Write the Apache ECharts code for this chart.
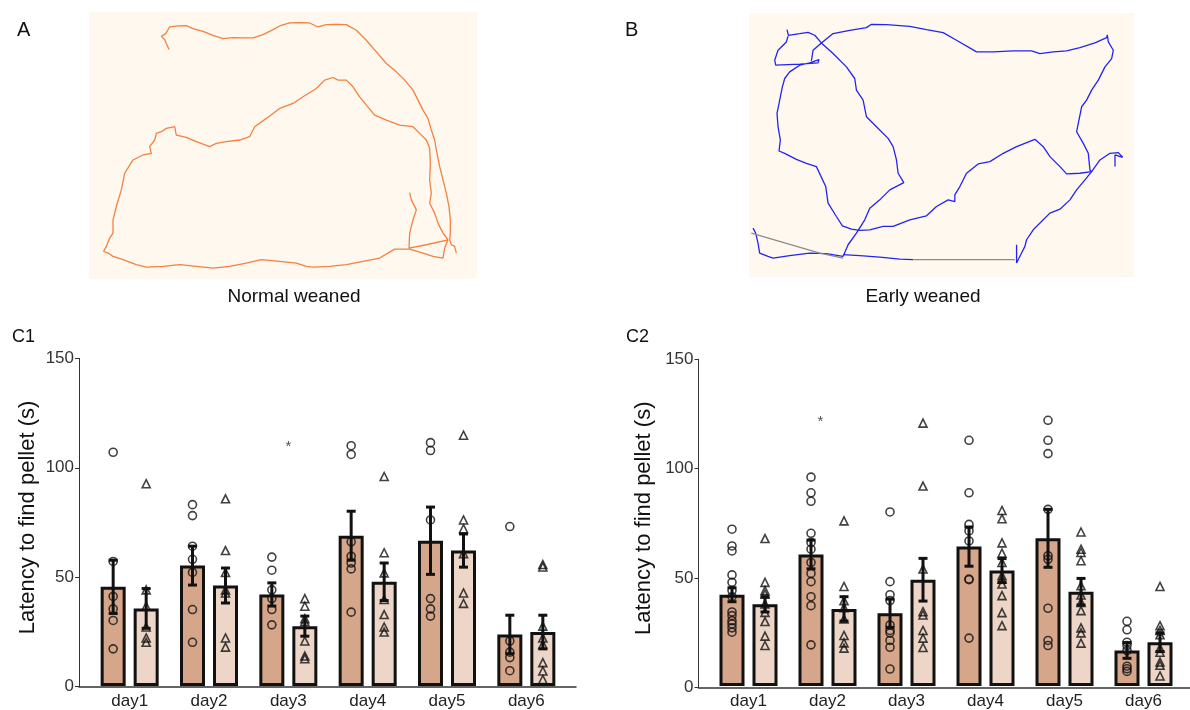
<!DOCTYPE html>
<html>
<head>
<meta charset="utf-8">
<script src="https://cdn.jsdelivr.net/npm/echarts@6.0.0/dist/echarts.min.js"></script>
<style>
html, body { margin: 0; padding: 0; background: #fff; }
#main { width: 1190px; height: 710px; }
</style>
</head>
<body>
<div id="main"></div>
<script>
var days = ['day1', 'day2', 'day3', 'day4', 'day5', 'day6'];

// C1: normal weaned (circles) / early weaned (triangles)
var c1MeanA = [45.4, 55.1, 41.9, 68.8, 66.5, 23.6];
var c1SemA = [12.2, 8.9, 5.3, 11.2, 15.4, 8.8];
var c1MeanB = [35.5, 46, 27.4, 47.7, 62, 24.7];
var c1SemB = [9.1, 8, 4.6, 8.6, 7.6, 7.7];
var c1PtsA = [
	[107, 57, 41, 35.3, 30, 17],
	[83, 78, 64, 58, 52, 35, 20],
	[59, 53, 44, 40, 35, 28],
	[110, 106, 66, 59.4, 56.3, 53.6, 33.8],
	[111.4, 107.8, 76, 40, 35.3, 32],
	[73, 20.6, 15.5, 13, 7]
];
var c1PtsB = [
	[92.6, 44, 36.5, 27, 22, 20],
	[85.7, 62, 52, 44, 42.6, 22, 17.8],
	[40, 36.5, 30.8, 29.5, 20.6, 13.7, 12.5],
	[95.9, 61, 51.8, 39.6, 32.7, 27, 24.7],
	[114.8, 76, 72, 60.6, 42.6, 37.8],
	[55.6, 54.5, 27.4, 22, 19, 10.7, 6.9, 3]
];
var c1Star = [[2, 109.5]];

// C2
var c2MeanA = [41.9, 60.4, 33.4, 64, 67.8, 16.3];
var c2SemA = [3.2, 6.6, 6.5, 9, 13.3, 3.6];
var c2MeanB = [37.5, 35.4, 48.8, 53, 43.3, 20.1];
var c2SemB = [3.5, 5.6, 9.8, 5.5, 6.1, 4.3];
var c2PtsA = [
	[72, 64.3, 62, 51, 47.6, 43.8, 41, 34, 32.3, 30, 28.5, 26.7, 24.7],
	[95.9, 88.7, 84.8, 70.1, 65.9, 62.8, 56.7, 51.7, 47.9, 41, 36.9, 18.9],
	[79.9, 47.9, 41.9, 39.2, 28, 25.5, 24.4, 20.9, 17.8, 7.8],
	[112.8, 88.7, 74.2, 71.2, 66.6, 49.1, 48.8, 22],
	[122, 112.8, 106.7, 81.1, 59.8, 58.2, 35.7, 20.9, 18.6],
	[29.7, 25.8, 20.1, 18.6, 16.3, 9.1, 7.9, 6.7]
];
var c2PtsB = [
	[67.7, 47.6, 43.8, 42.2, 37.7, 33.8, 29.6, 22.9, 18.6],
	[75.8, 45.7, 39.2, 36, 30.8, 23.2, 19.8, 17.4],
	[120.7, 91.8, 53.7, 34.1, 32.6, 25.5, 22, 17.7],
	[80.6, 76.8, 65.7, 61, 56.7, 50.6, 49.1, 46.8, 41.5, 33.7, 27.7],
	[70.7, 62.8, 61.3, 57.5, 46, 41.8, 38.4, 34.6, 26.7, 24.4, 19.7],
	[45.7, 27.7, 25.5, 23.5, 17.4, 15.5, 11, 9.5, 4.6]
];
var c2Star = [[1, 121.5]];

// A: normal weaned track (arena coords)
var trackA1 = [[268,148],[260,130],[255,118],[245,108],[258,100],[270,80],[295,77],[320,76],[340,85],[370,93],[400,105],[430,115],[460,112],[490,113],[520,113],[550,103],[580,88],[600,77],[630,68],[660,67],[690,68],[715,80],[740,73],[770,72],[800,73],[830,90],[860,120],[890,155],[920,190],[950,215],[975,240],[1000,270],[1015,300],[1030,330],[1045,355],[1055,390],[1065,420],[1070,450],[1080,500],[1090,540],[1100,580],[1108,620],[1112,660],[1112,700],[1110,720],[1115,735],[1125,740],[1130,760]];
var trackA2 = [[990,578],[995,600],[1010,630],[1000,660],[990,700],[988,745],[1040,735],[1105,720],[1095,745],[1090,775],[1060,770],[1030,760],[990,748],[945,748],[900,775],[850,785],[800,795],[750,800],[700,802],[680,800],[650,790],[600,785],[545,780],[500,790],[450,800],[400,805],[350,800],[300,795],[250,800],[200,802],[170,795],[130,780],[100,770],[85,760],[72,755],[80,740],[90,715],[100,700],[100,660],[110,620],[125,570],[135,520],[160,480],[190,465],[215,460],[210,440],[225,420],[230,400],[245,395],[260,385],[285,380],[290,405],[320,412],[350,425],[390,440],[410,430],[440,425],[480,420],[510,410],[525,380],[560,355],[600,325],[640,310],[670,290],[710,265],[735,240],[760,232],[775,240],[800,240],[820,260],[840,290],[860,315],[885,345],[920,360],[960,375],[1000,380],[1020,400],[1040,420],[1050,445],[1052,490],[1050,540],[1055,580],[1050,610],[1065,640],[1075,670],[1090,700],[1105,720]];

// B: early weaned track (arena coords)
var trackB1 = [[262,88],[266,105],[300,100],[325,96],[345,105],[365,128],[400,100],[450,90],[500,82],[515,72],[560,73],[630,78],[680,88],[730,97],[770,120],[830,155],[880,155],[940,152],[995,152],[1020,160],[1060,155],[1100,152],[1140,142],[1185,128],[1220,112],[1222,104],[1225,125],[1240,150],[1235,175],[1215,200],[1195,240],[1175,270],[1160,300],[1145,320],[1137,360],[1130,395],[1150,430],[1165,460],[1170,510],[1175,515]];
var trackB2 = [[1175,515],[1200,480],[1230,460],[1255,458],[1268,472],[1245,465],[1245,500]];
var trackB3 = [[1175,515],[1140,520],[1100,522],[1080,500],[1050,470],[1030,440],[1005,418],[950,440],[910,460],[870,485],[835,492],[800,520],[780,560],[765,585],[765,605],[745,600],[710,620],[680,648],[630,660],[580,680],[550,680],[510,690],[480,692],[455,688],[428,678],[410,650],[385,610],[378,560],[350,500],[320,490],[290,478],[255,460],[238,453],[242,420],[235,380],[232,340],[240,300],[248,260],[255,235],[270,215],[300,195],[330,188],[358,178],[355,188],[300,192],[228,195],[225,180],[235,150],[260,125],[265,108]];
var trackB4 = [[335,182],[340,150],[365,128],[400,160],[440,200],[465,235],[470,270],[490,300],[500,350],[530,380],[565,415],[580,440],[590,480],[595,520],[612,548],[570,570],[540,600],[510,625],[495,660],[470,700],[445,735],[430,770]];
var trackB5 = [[430,770],[380,762],[330,760],[270,768],[220,775],[205,770],[180,760],[175,730],[168,700],[160,685]];
var trackB6 = [[430,765],[480,768],[540,772],[600,778],[640,780]];
var trackB7 = [[950,735],[950,790],[965,760],[975,740],[980,720],[1000,690],[1030,660],[1050,640],[1080,628],[1110,600],[1130,570],[1155,540],[1175,515]];
var trackBGap1 = [[155,700],[360,760],[430,775]];
var trackBGap2 = [[640,780],[945,780]];

var myChart = echarts.init(document.getElementById('main'));

function pts(arr) {
	var out = [];
	arr.forEach(function(vals, i) {
		vals.forEach(function(v) { out.push([i, v]); });
	});
	return out;
}
function meanSem(m, s) {
	return m.map(function(v, i) { return [i, v, s[i]]; });
}
function errRender(offset) {
	return function(params, api) {
		var x = api.value(0), m = api.value(1), s = api.value(2);
		var top = api.coord([x, m + s]);
		var bot = api.coord([x, m - s]);
		var cx = top[0] + offset;
		var st = { stroke: '#111', lineWidth: 3 };
		return {
			type: 'group',
			children: [
				{ type: 'line', shape: { x1: cx, y1: top[1], x2: cx, y2: bot[1] }, style: st },
				{ type: 'line', shape: { x1: cx - 4.5, y1: top[1], x2: cx + 4.5, y2: top[1] }, style: st },
				{ type: 'line', shape: { x1: cx - 4.5, y1: bot[1], x2: cx + 4.5, y2: bot[1] }, style: st }
			]
		};
	};
}
function track(data, xi, color) {
	return {
		type: 'line', xAxisIndex: xi, yAxisIndex: xi, data: data,
		showSymbol: false, silent: true,
		lineStyle: { color: color, width: 1.3 }
	};
}
function barPanel(ax, meanA, semA, meanB, semB, ptsA, ptsB, star, starDx) {
	var hollow = { color: 'rgba(0,0,0,0)', borderColor: '#111', borderWidth: 1.6 };
	return [
		{
			type: 'bar', xAxisIndex: ax, yAxisIndex: ax, data: meanA,
			barWidth: 25, barGap: '32%', z: 2,
			itemStyle: { color: '#d6a68a', borderColor: '#111', borderWidth: 3 }
		},
		{
			type: 'bar', xAxisIndex: ax, yAxisIndex: ax, data: meanB,
			barWidth: 25, z: 2,
			itemStyle: { color: '#edd6c7', borderColor: '#111', borderWidth: 3 }
		},
		{ type: 'custom', xAxisIndex: ax, yAxisIndex: ax, data: meanSem(meanA, semA), renderItem: errRender(-16.5), z: 3 },
		{ type: 'custom', xAxisIndex: ax, yAxisIndex: ax, data: meanSem(meanB, semB), renderItem: errRender(16.5), z: 3 },
		{
			type: 'scatter', xAxisIndex: ax, yAxisIndex: ax, data: pts(ptsA),
			symbol: 'circle', symbolSize: 8, symbolOffset: [-16.5, 0], z: 4, itemStyle: hollow
		},
		{
			type: 'scatter', xAxisIndex: ax, yAxisIndex: ax, data: pts(ptsB),
			symbol: 'triangle', symbolSize: 8, symbolOffset: [16.5, 0], z: 4, itemStyle: hollow
		},
		{
			type: 'scatter', xAxisIndex: ax, yAxisIndex: ax, data: star,
			symbolSize: 1, itemStyle: { color: 'rgba(0,0,0,0)' }, z: 4,
			label: { show: true, position: 'inside', offset: [starDx, 0], formatter: '*', fontSize: 15, color: '#222' }
		}
	];
}
function lineAxis(grid) {
	return {
		type: 'value', gridIndex: grid, min: 0, max: 1,
		axisLine: { show: true, onZero: false, lineStyle: { color: '#333', width: 1.5 } },
		axisTick: { show: false }, axisLabel: { show: false }, splitLine: { show: false }
	};
}
function catAxis(grid) {
	return {
		type: 'category', gridIndex: grid, data: days,
		axisLine: { show: false }, axisTick: { show: false },
		axisLabel: { fontSize: 17, color: '#222', margin: 7, fontFamily: 'Liberation Sans' }
	};
}
function valAxis(grid, gap) {
	return {
		type: 'value', gridIndex: grid, min: 0, max: 150, interval: 50,
		axisLine: { show: true, lineStyle: { color: '#333', width: 1 } },
		axisTick: { show: true, length: 4, lineStyle: { color: '#333' } },
		axisLabel: { fontSize: 17, color: '#333', margin: 5, fontFamily: 'Liberation Sans' },
		splitLine: { show: false },
		name: 'Latency to find pellet (s)', nameLocation: 'middle', nameGap: gap,
		nameTextStyle: { fontSize: 22, color: '#111', fontFamily: 'Liberation Sans', padding: [0, 0, 0, 10] }
	};
}
function hiddenVal(grid) {
	return { type: 'value', gridIndex: grid, min: 0, max: 150, show: false };
}
function label(text, x, y, size, align) {
	return {
		type: 'text', x: x, y: y,
		style: { text: text, fontSize: size, fontFamily: 'Liberation Sans', fill: '#111', align: align, verticalAlign: 'middle' }
	};
}

var option = {
	animation: false,
	grid: [
		{ left: 89, top: 12, width: 388, height: 267, show: true, backgroundColor: '#fef8ee', borderWidth: 0 },
		{ left: 749, top: 13, width: 385, height: 264, show: true, backgroundColor: '#fef8ee', borderWidth: 0 },
		{ left: 79, top: 358.3, width: 497, height: 328.4 },
		{ left: 90, top: 358.3, width: 476, height: 328.4 },
		{ left: 698.5, top: 359.3, width: 495, height: 328 },
		{ left: 709, top: 359.3, width: 474, height: 328 }
	],
	xAxis: [
		{ type: 'value', gridIndex: 0, min: 28, max: 1192, show: false },
		{ type: 'value', gridIndex: 1, min: 148, max: 1302, show: false },
		lineAxis(2),
		catAxis(3),
		lineAxis(4),
		catAxis(5)
	],
	yAxis: [
		{ type: 'value', gridIndex: 0, min: 35, max: 838, inverse: true, show: false },
		{ type: 'value', gridIndex: 1, min: 38, max: 832, inverse: true, show: false },
		valAxis(2, 40),
		hiddenVal(3),
		valAxis(4, 44),
		hiddenVal(5)
	],
	graphic: [
		label('A', 17, 30, 20, 'left'),
		label('B', 625, 30, 20, 'left'),
		label('Normal weaned', 294, 297, 19, 'center'),
		label('Early weaned', 923, 297, 19, 'center'),
		label('C1', 12, 337, 18, 'left'),
		label('C2', 626, 337, 18, 'left')
	],
	series: [
		track(trackA1, 0, '#f5803f'),
		track(trackA2, 0, '#f5803f'),
		track(trackB1, 1, '#2424f2'),
		track(trackB2, 1, '#2424f2'),
		track(trackB3, 1, '#2424f2'),
		track(trackB4, 1, '#2424f2'),
		track(trackB5, 1, '#2424f2'),
		track(trackB6, 1, '#2424f2'),
		track(trackB7, 1, '#2424f2'),
		track(trackBGap1, 1, '#8c8c8c'),
		track(trackBGap2, 1, '#8c8c8c')
	]
		.concat(barPanel(3, c1MeanA, c1SemA, c1MeanB, c1SemB, c1PtsA, c1PtsB, c1Star, 0))
		.concat(barPanel(5, c2MeanA, c2SemA, c2MeanB, c2SemB, c2PtsA, c2PtsB, c2Star, -7))
};
myChart.setOption(option);
</script>
</body>
</html>
